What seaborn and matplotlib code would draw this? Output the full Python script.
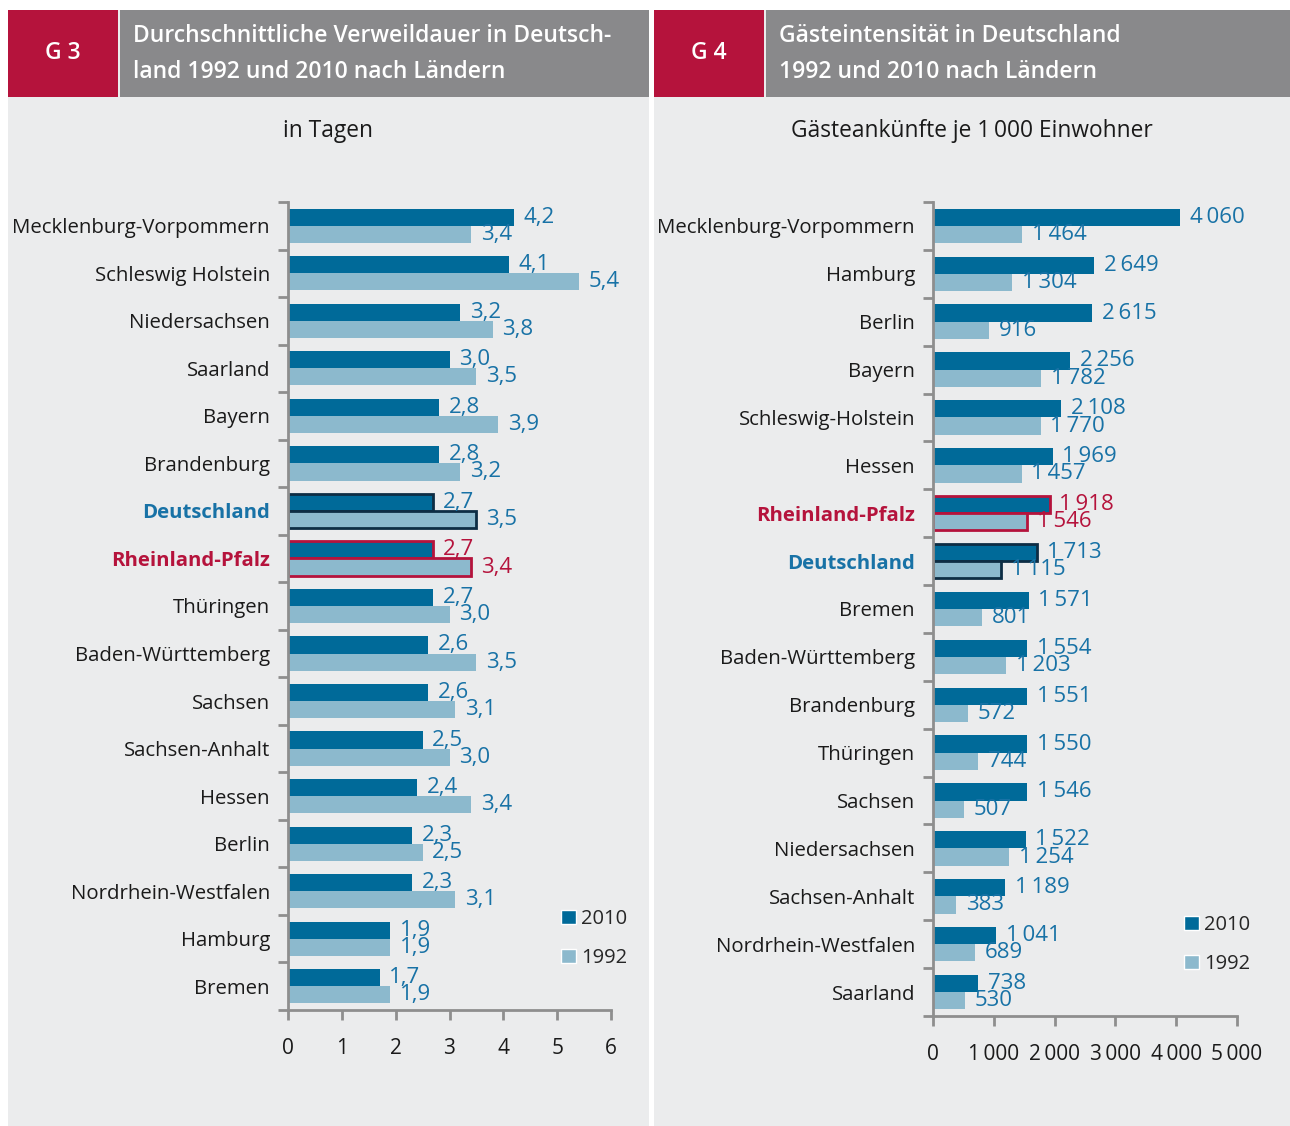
import numpy as np
import pandas as pd
import seaborn as sns
import matplotlib.pyplot as plt
from matplotlib.patches import Rectangle, Patch

# Data
laender_g3 = ['Mecklenburg-Vorpommern', 'Schleswig Holstein', 'Niedersachsen', 'Saarland',
              'Bayern', 'Brandenburg', 'Deutschland', 'Rheinland-Pfalz', 'Thüringen',
              'Baden-Württemberg', 'Sachsen', 'Sachsen-Anhalt', 'Hessen', 'Berlin',
              'Nordrhein-Westfalen', 'Hamburg', 'Bremen']
dauer_2010 = [4.2, 4.1, 3.2, 3.0, 2.8, 2.8, 2.7, 2.7, 2.7, 2.6, 2.6, 2.5, 2.4, 2.3, 2.3, 1.9, 1.7]
dauer_1992 = [3.4, 5.4, 3.8, 3.5, 3.9, 3.2, 3.5, 3.4, 3.0, 3.5, 3.1, 3.0, 3.4, 2.5, 3.1, 1.9, 1.9]

laender_g4 = ['Mecklenburg-Vorpommern', 'Hamburg', 'Berlin', 'Bayern', 'Schleswig-Holstein',
              'Hessen', 'Rheinland-Pfalz', 'Deutschland', 'Bremen', 'Baden-Württemberg',
              'Brandenburg', 'Thüringen', 'Sachsen', 'Niedersachsen', 'Sachsen-Anhalt',
              'Nordrhein-Westfalen', 'Saarland']
gaeste_2010 = [4060, 2649, 2615, 2256, 2108, 1969, 1918, 1713, 1571, 1554, 1551, 1550, 1546,
               1522, 1189, 1041, 738]
gaeste_1992 = [1464, 1304, 916, 1782, 1770, 1457, 1546, 1115, 801, 1203, 572, 744, 507,
               1254, 383, 689, 530]

jahre = ['2010', '1992']

# Colours
DARK = '#006a99'
LIGHT = '#8cb9cd'
RED = '#b5133c'
LBL = '#1872a6'
NAVY = '#0d2d44'
GREY_HEAD = '#89898b'
PANEL = '#ebeced'
AXIS = '#8e8e8e'

sns.set_theme(style='white')
plt.rcParams['font.family'] = ['Open Sans', 'DejaVu Sans']

W, H = 1290, 1126
fig = plt.figure(figsize=(W / 100, H / 100), dpi=100)
fig.patch.set_facecolor('white')


def box(x0, y0, x1, y1, color):
    fig.patches.append(Rectangle((x0 / W, 1 - y1 / H), (x1 - x0) / W, (y1 - y0) / H,
                                 transform=fig.transFigure, facecolor=color,
                                 edgecolor='none', zorder=-10))


def ax_px(x0, y0, x1, y1):
    return fig.add_axes([x0 / W, 1 - y1 / H, (x1 - x0) / W, (y1 - y0) / H])


def fmt_de(v, dec):
    if dec:
        return f'{v:.1f}'.replace('.', ',')
    return f'{int(v):,}'.replace(',', '\u2009')


def draw_panel(ax, labels, v2010, v1992, dec, xmax, xticks, xticklabels, legend_xy):
    df = pd.DataFrame({
        'Land': labels * 2,
        'Wert': v2010 + v1992,
        'Jahr': [jahre[0]] * len(labels) + [jahre[1]] * len(labels),
    })
    sns.barplot(data=df, y='Land', x='Wert', hue='Jahr', hue_order=jahre, orient='h',
                palette=[DARK, LIGHT], width=0.72, gap=0, ax=ax, legend=False,
                saturation=1, linewidth=0)
    ax.set_facecolor('none')
    ax.set_xlim(0, xmax)
    ax.set_ylim(len(labels) - 0.5, -0.5)
    ax.set_xlabel('')
    ax.set_ylabel('')

    for c_idx, cont in enumerate(ax.containers):
        texts = ax.bar_label(cont, labels=[fmt_de(v, dec) for v in cont.datavalues],
                             padding=7, fontsize=16, color=LBL)
        for i, (bar, t) in enumerate(zip(cont, texts)):
            if labels[i] == 'Deutschland':
                bar.set_edgecolor(NAVY)
                bar.set_linewidth(2)
            elif labels[i] == 'Rheinland-Pfalz':
                bar.set_edgecolor(RED)
                bar.set_linewidth(2)
                t.set_color(RED)

    for s in ['top', 'right']:
        ax.spines[s].set_visible(False)
    for s in ['left', 'bottom']:
        ax.spines[s].set_color(AXIS)
        ax.spines[s].set_linewidth(2)

    ax.set_xticks(xticks)
    ax.set_xticklabels(xticklabels)
    ax.tick_params(axis='x', direction='out', length=7, width=2, color=AXIS, pad=13,
                   labelsize=15, labelcolor='#1a1a1a', bottom=True)
    ax.set_yticks(np.arange(-0.5, len(labels), 1), minor=True)
    ax.tick_params(axis='y', which='minor', direction='out', length=7, width=2,
                   color=AXIS, left=True)
    ax.tick_params(axis='y', which='major', length=0, pad=13, labelsize=14.7,
                   labelcolor='#1a1a1a')
    for t in ax.get_yticklabels():
        if t.get_text() == 'Deutschland':
            t.set_color(LBL)
            t.set_fontweight('bold')
        elif t.get_text() == 'Rheinland-Pfalz':
            t.set_color(RED)
            t.set_fontweight('bold')

    handles = [Patch(facecolor=DARK, label='2010'), Patch(facecolor=LIGHT, label='1992')]
    ax.legend(handles=handles, loc='upper left', bbox_to_anchor=legend_xy,
              bbox_transform=fig.transFigure, frameon=False, fontsize=14.5,
              handlelength=0.75, handleheight=0.75, handletextpad=0.25, labelspacing=0.95,
              borderaxespad=0, borderpad=0)


# Panels and headers
box(8, 10, 649, 1126, PANEL)
box(654, 10, 1290, 1126, PANEL)
box(8, 10, 118, 97, RED)
box(120, 10, 649, 97, GREY_HEAD)
box(654, 10, 764, 97, RED)
box(766, 10, 1290, 97, GREY_HEAD)

fig.text(63 / W, 1 - 53 / H, 'G 3', color='white', fontsize=16.5, fontweight='semibold',
         ha='center', va='center')
fig.text(709 / W, 1 - 53 / H, 'G 4', color='white', fontsize=16.5, fontweight='semibold',
         ha='center', va='center')
fig.text(133 / W, 1 - 54 / H, 'Durchschnittliche Verweildauer in Deutsch-\nland 1992 und 2010 nach Ländern',
         color='white', fontsize=16.5, fontweight='semibold', ha='left', va='center',
         linespacing=1.65)
fig.text(779 / W, 1 - 54 / H, 'Gästeintensität in Deutschland\n1992 und 2010 nach Ländern',
         color='white', fontsize=16.5, fontweight='semibold', ha='left', va='center',
         linespacing=1.65)
fig.text(328 / W, 1 - 131 / H, 'in Tagen', color='#1a1a1a', fontsize=16.4,
         ha='center', va='center')
fig.text(972 / W, 1 - 131 / H, 'Gästeankünfte je 1\u2009000 Einwohner', color='#1a1a1a',
         fontsize=16.4, ha='center', va='center')

ax1 = ax_px(288, 202, 611, 1010)
draw_panel(ax1, laender_g3, dauer_2010, dauer_1992, True, 6, range(0, 7),
           [str(i) for i in range(0, 7)], (561 / W, 1 - 909 / H))

ax2 = ax_px(933, 202, 1237, 1016)
draw_panel(ax2, laender_g4, gaeste_2010, gaeste_1992, False, 5000, range(0, 5001, 1000),
           ['0'] + [f'{i}\u2009000' for i in range(1, 6)], (1184 / W, 1 - 915 / H))

fig.savefig('out.png', dpi=100)
